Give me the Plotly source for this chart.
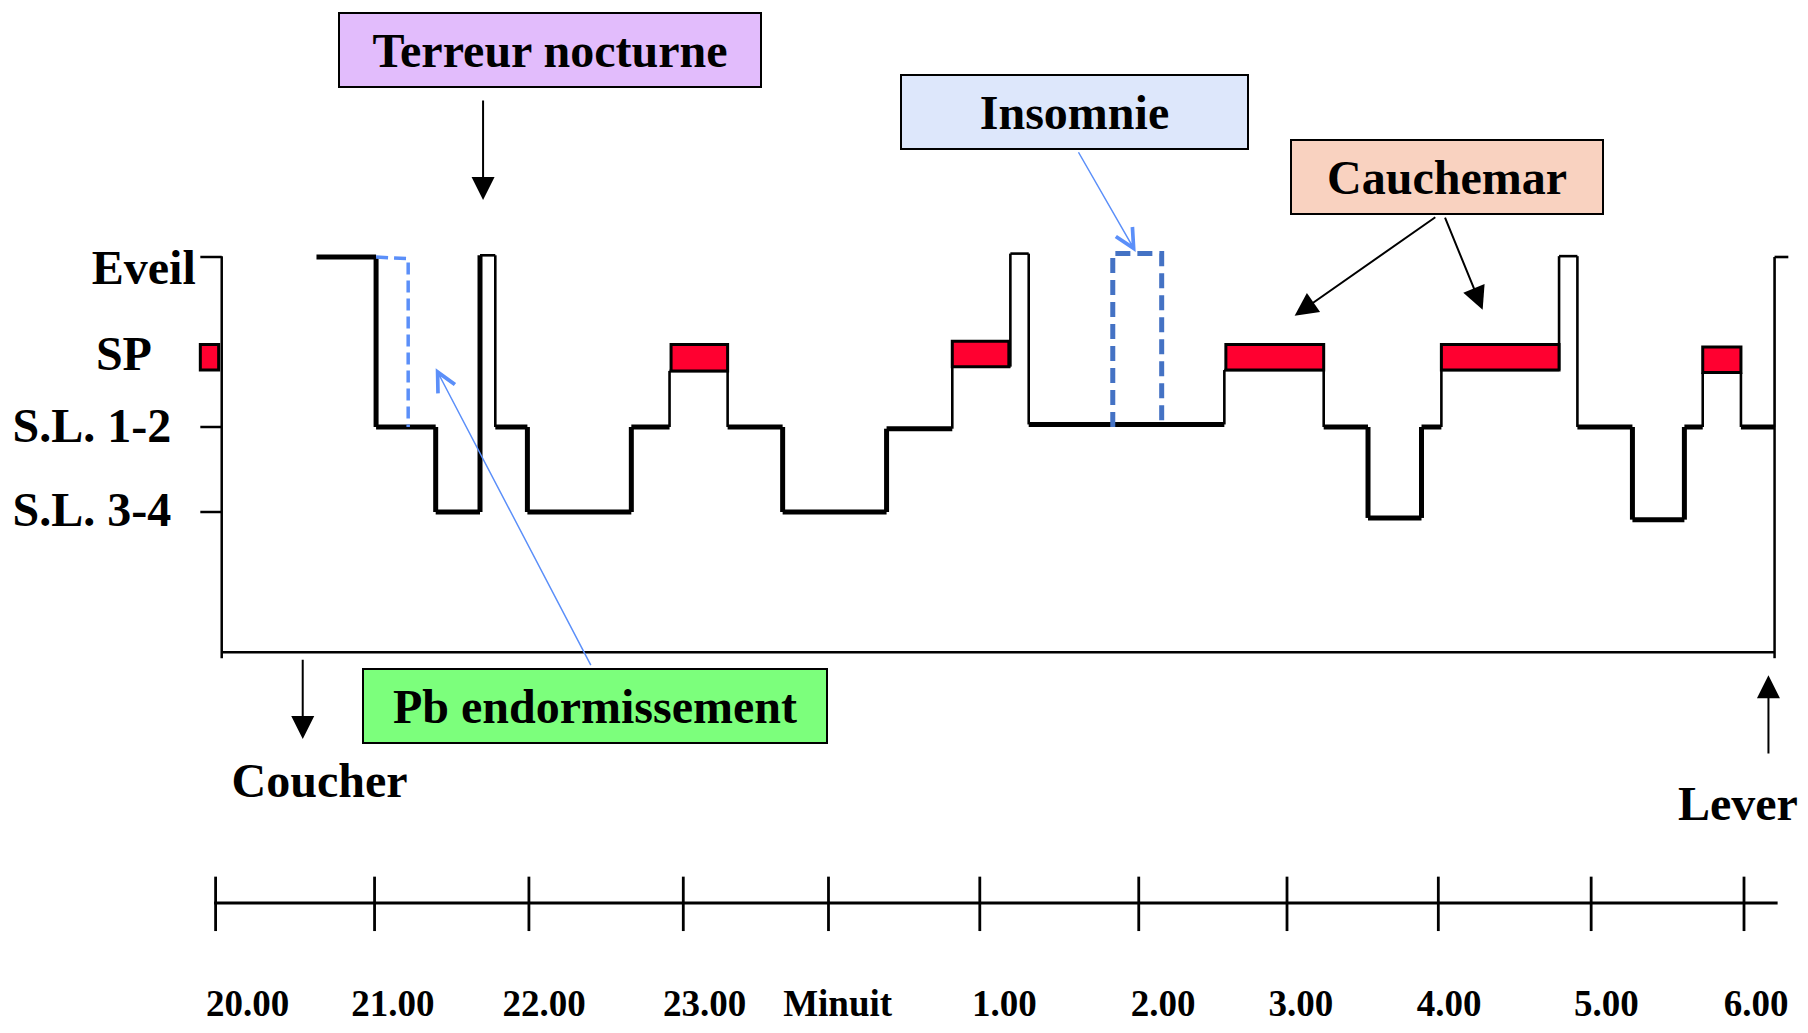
import plotly.graph_objects as go

SERIF = "Liberation Serif, Times New Roman, serif"

# Hypnogram: x in hours (20 = 20.00, 24 = minuit, 30 = 6.00),
# y as stage level (S.L. 3-4 = 0, S.L. 1-2 = 1, SP ~ 1.66, Eveil = 3)
HYPNO_T = [20.66, 21.05, 21.44, 21.73, 21.83, 22.04, 22.72, 22.97, 23.35, 23.71,
           24.39, 24.82, 25.20, 25.32, 26.60, 27.25, 27.54, 27.89, 28.02, 28.79,
           28.91, 29.27, 29.61, 29.73, 29.98, 30.20, 30.29]
HYPNO_LEVEL = [3.0, 1.0, 0.0, 3.02, 1.0, 0.0, 1.0, 1.66, 1.0, 0.0,
               0.98, 1.71, 3.04, 1.03, 1.67, 1.0, -0.07, 1.0, 1.67, 3.01,
               1.0, -0.09, 1.0, 1.64, 1.0, 3.0]

# SP (sommeil paradoxal) episodes, drawn as red blocks
SP_START = [22.98, 24.82, 26.61, 28.02, 29.73]
SP_END = [23.35, 25.19, 27.25, 28.79, 29.98]
SP_BOTTOM = [1.66, 1.71, 1.67, 1.67, 1.64]
SP_TOP = [1.97, 2.01, 1.97, 1.97, 1.94]

# dashed alternatives
ENDORM_T = [21.05, 21.26, 21.26]
ENDORM_LEVEL = [3.0, 2.98, 1.0]
INSOMNIE_T = [25.87, 25.87, 26.19, 26.19]
INSOMNIE_LEVEL = [1.0, 3.04, 3.04, 1.0]

# stage axis
STAGE_LABELS = ["Eveil", "SP", "S.L. 1-2", "S.L. 3-4"]
STAGE_LABEL_X = [19.53, 19.40, 19.19, 19.19]
STAGE_LABEL_Y = [2.82, 1.81, 0.97, -0.02]
STAGE_TICKS = [3.0, 1.0, 0.0]

# clock axis
TIME_LABELS = ["20.00", "21.00", "22.00", "23.00", "Minuit", "1.00",
               "2.00", "3.00", "4.00", "5.00", "6.00"]
TIME_TICKS = [20.0, 21.04, 22.05, 23.06, 24.01, 25.0, 26.04, 27.01, 28.0, 29.0, 30.0]
TIME_LABEL_X = [20.21, 21.16, 22.15, 23.20, 24.07, 25.16, 26.20, 27.10, 28.07, 29.10, 30.08]

fig = go.Figure()


def seg_trace(xs, ys, width, color="black", dash="solid"):
    return go.Scatter(x=xs, y=ys, mode="lines", hoverinfo="skip",
                      line=dict(color=color, width=width, dash=dash))


# frame of the hypnogram
x0, x1, base = 20.04, 30.20, -1.65
fig.add_trace(seg_trace([x0, x0, None, x0, x1, None, x1, x1],
                        [3.01, -1.72, None, base, base, None, -1.72, 1.0], 2.5))
tx, ty = [], []
for lv in STAGE_TICKS:
    tx += [19.90, x0, None]
    ty += [lv, lv, None]
fig.add_trace(seg_trace(tx, ty, 2.5))

# hypnogram: deep / light sleep steps thick, SP and wake spikes thin
thick_x, thick_y, thin_x, thin_y = [], [], [], []
segs = []
for i, lv in enumerate(HYPNO_LEVEL):
    segs.append(((HYPNO_T[i], HYPNO_T[i + 1]), (lv, lv)))
    if i + 1 < len(HYPNO_LEVEL):
        segs.append(((HYPNO_T[i + 1], HYPNO_T[i + 1]), (lv, HYPNO_LEVEL[i + 1])))
for k, (xs, ys) in enumerate(segs):
    lo, hi = min(ys), max(ys)
    if k < 2 or lo < 0.5 or hi <= 1.1:
        thick_x += [xs[0], xs[1], None]
        thick_y += [ys[0], ys[1], None]
    else:
        thin_x += [xs[0], xs[1], None]
        thin_y += [ys[0], ys[1], None]
fig.add_trace(seg_trace(thin_x, thin_y, 2.6))
fig.add_trace(seg_trace(thick_x, thick_y, 5))

fig.add_trace(seg_trace(ENDORM_T, ENDORM_LEVEL, 3.5, "#5B8FF9", "12px,6px"))
fig.add_trace(seg_trace(INSOMNIE_T, INSOMNIE_LEVEL, 5, "#4472C4", "15px,7px"))

# SP blocks (plus the key block left of the axis)
for s, e, b, t in zip(SP_START + [19.90], SP_END + [20.02],
                      SP_BOTTOM + [1.67], SP_TOP + [1.97]):
    fig.add_shape(type="rect", xref="x", yref="y", x0=s, x1=e, y0=b, y1=t,
                  fillcolor="#FF0030", line=dict(color="black", width=3))

# clock timeline
lx, ly = [19.99, 30.22, None], [-4.6, -4.6, None]
for h in TIME_TICKS:
    lx += [h, h, None]
    ly += [-4.29, -4.93, None]
fig.add_trace(seg_trace(lx, ly, 2.8))

fig.add_trace(go.Scatter(
    x=TIME_LABEL_X, y=[-5.82] * len(TIME_LABELS), mode="text",
    text=[f"<b>{t}</b>" for t in TIME_LABELS], textposition="middle center",
    textfont=dict(family=SERIF, size=37, color="black"), hoverinfo="skip"))

fig.add_trace(go.Scatter(
    x=STAGE_LABEL_X + [20.68, 29.96], y=STAGE_LABEL_Y + [-3.21, -3.48], mode="text",
    text=[f"<b>{t}</b>" for t in STAGE_LABELS + ["Coucher", "Lever"]],
    textposition="middle center",
    textfont=dict(family=SERIF, size=48, color="black"), hoverinfo="skip"))


def box(text, h, lev, w, fill):
    return dict(x=h, y=lev, xref="x", yref="y", text=f"<b>{text}</b>",
                showarrow=False, xanchor="center", yanchor="middle",
                font=dict(family=SERIF, size=48, color="black"),
                bgcolor=fill, bordercolor="black", borderwidth=2, borderpad=0,
                width=w - 4, height=72)


def arrow(xa, ya, xb, yb, color="black", width=2, head=2, size=2.3):
    return dict(x=xb, y=yb, ax=xa, ay=ya, xref="x", yref="y", axref="x", ayref="y",
                text="", showarrow=True, arrowhead=head, arrowsize=size,
                arrowwidth=width, arrowcolor=color, standoff=0)


annotations = [
    box("Terreur nocturne", 22.19, 5.43, 424, "#E2BCFC"),
    box("Insomnie", 25.62, 4.71, 349, "#DDE7FB"),
    box("Cauchemar", 28.06, 3.94, 314, "#F9D2C0"),
    box("Pb endormissement", 22.48, -2.28, 466, "#7CFF7C"),
    arrow(21.75, 4.86, 21.75, 3.67),
    arrow(25.64, 4.25, 26.02, 3.06, "#5B8FF9", 1.5, 5, 2.5),
    arrow(27.99, 3.48, 27.06, 2.31),
    arrow(28.04, 3.48, 28.29, 2.38),
    arrow(22.46, -1.82, 21.44, 1.69, "#5B8FF9", 1.5, 5, 2.5),
    arrow(20.57, -1.72, 20.57, -2.67),
    arrow(30.16, -2.86, 30.16, -1.92),
]

# the page body adds an 8px margin, so the figure is 16px smaller than the window
fig.update_layout(
    width=1792, height=1017,
    margin=dict(l=0, r=0, t=0, b=0),
    paper_bgcolor="white", plot_bgcolor="white",
    showlegend=False,
    xaxis=dict(range=[18.6417, 30.3664], visible=False, fixedrange=True),
    yaxis=dict(range=[-6.0353, 5.9294], visible=False, fixedrange=True),
    annotations=annotations,
)

fig.write_html("out.html")
